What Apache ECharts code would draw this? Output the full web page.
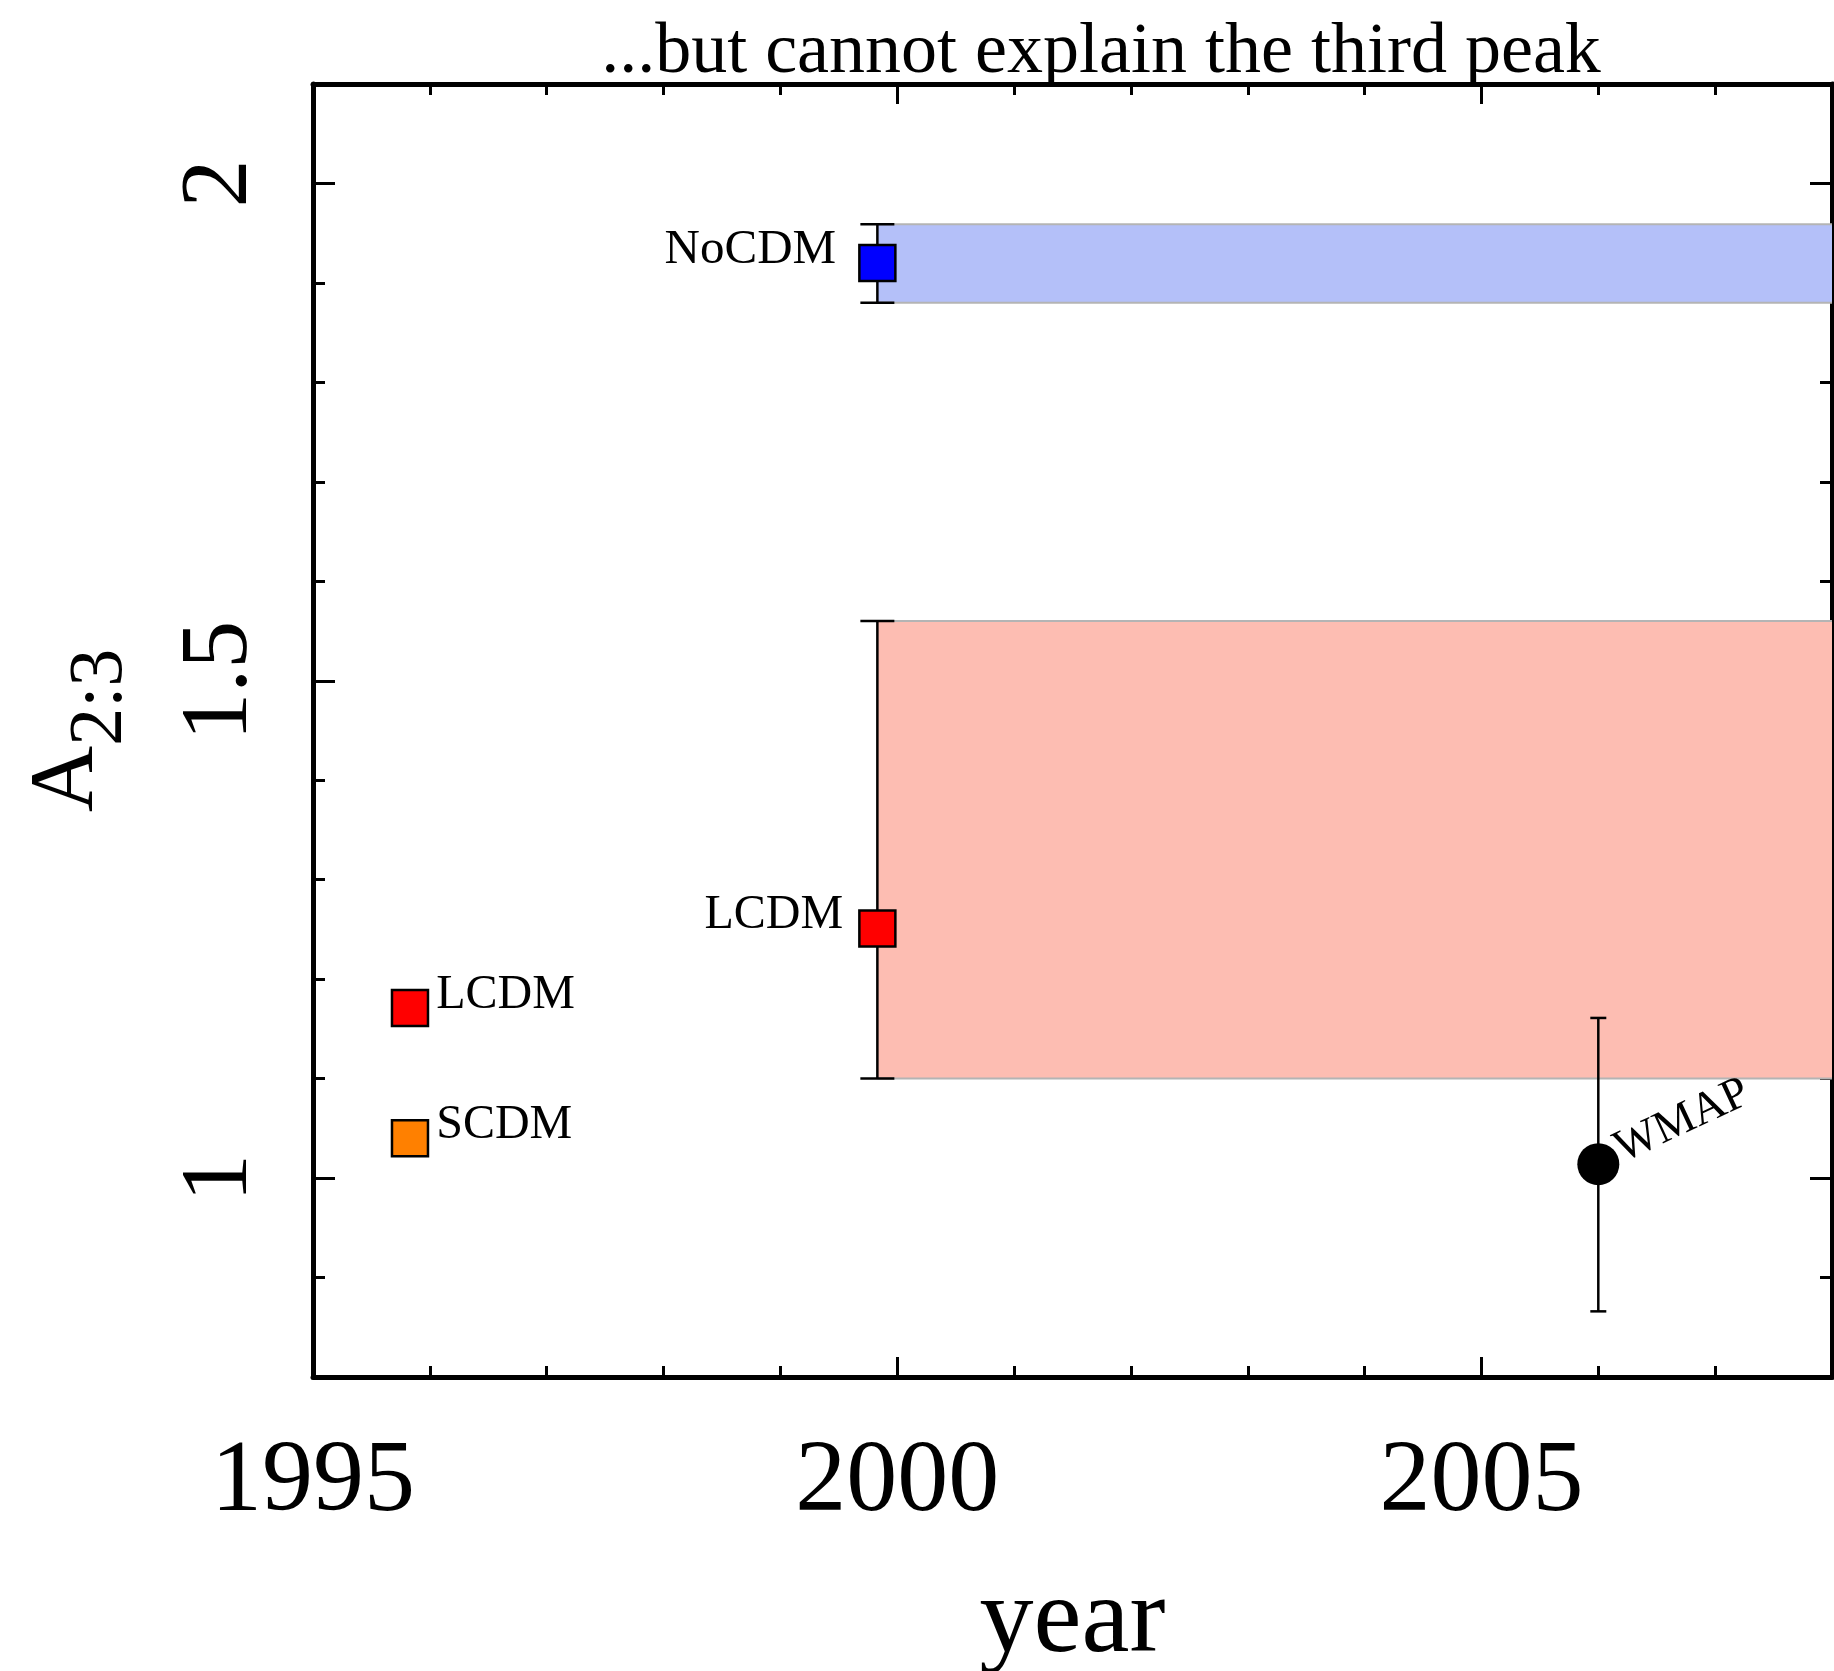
<!DOCTYPE html>
<html><head><meta charset="utf-8">
<script src="https://cdn.jsdelivr.net/npm/echarts@6/dist/echarts.min.js"></script>
<style>html,body{margin:0;padding:0;background:#fff}#c{width:1834px;height:1671px}</style>
</head><body><div id="c"></div>
<script>
// ---- tick values ----
const xMajorTicks = [1995, 2000, 2005];
const xMinorTicks = [1996, 1997, 1998, 1999, 2001, 2002, 2003, 2004, 2006, 2007];
const yMajorTicks = [1, 1.5, 2];
const yMinorTicks = [0.9, 1.1, 1.2, 1.3, 1.4, 1.6, 1.7, 1.8, 1.9];
const X_MIN = 1995, X_MAX = 2008, Y_MIN = 0.8, Y_MAX = 2.1;

// ---- data ----
const lcdmYears = [1995.83, 1999.83];
const lcdmValues = [1.171, 1.251];
const scdmYears = [1995.83];
const scdmValues = [1.040];
const nocdmYears = [1999.83];
const nocdmValues = [1.920];
const modelErrYears = [1999.83, 1999.83];
const modelErrLow = [1.880, 1.100];
const modelErrHigh = [1.959, 1.560];
const bandStart = [1999.83, 1999.83];
const bandLow = [1.880, 1.100];
const bandHigh = [1.959, 1.560];
const wmapYears = [2006.0];
const wmapValues = [1.014];
const wmapLow = [0.866];
const wmapHigh = [1.161];

// ---- styles ----
const bandColors = ['#b4c0f9', '#fdbdb2'];
const SERIF = '"Liberation Serif", "DejaVu Serif", serif';

const chart = echarts.init(document.getElementById('c'), null, {renderer: 'canvas'});

function tickAxis(common, extra) { return Object.assign({}, common, extra); }

const xBase = {
  type: 'value', min: X_MIN, max: X_MAX, gridIndex: 0,
  splitLine: {show: false}, axisLabel: {show: false}, minorTick: {show: false}
};
const yBase = {
  type: 'value', min: Y_MIN, max: Y_MAX, gridIndex: 0,
  splitLine: {show: false}, axisLabel: {show: false}, minorTick: {show: false}
};
const axisLineStyle = {show: true, onZero: false, lineStyle: {color: '#000', width: 5}};
const noLine = {show: false, onZero: false};
const fmt = v => String(Math.round(v * 10) / 10);

const option = {
  backgroundColor: '#fff',
  animation: false,
  title: {
    text: '...but cannot explain the third peak',
    left: 1101, top: 17, padding: 0, textAlign: 'center',
    textStyle: {fontFamily: SERIF, fontSize: 72, fontWeight: 'normal', color: '#000'}
  },
  grid: {left: 313, right: 2, top: 84, bottom: 294, containLabel: false, outerBoundsMode: 'none'},
  xAxis: [
    tickAxis(xBase, {
      position: 'bottom', axisLine: axisLineStyle,
      axisTick: {show: true, inside: true, length: 20, lineStyle: {width: 3, color: '#000'}, customValues: xMajorTicks},
      axisLabel: {show: true, customValues: xMajorTicks, formatter: fmt, fontFamily: SERIF, fontSize: 102, color: '#000', margin: 55},
      name: 'year', nameLocation: 'middle', nameGap: 192,
      nameTextStyle: {fontFamily: SERIF, fontSize: 108, color: '#000'}
    }),
    tickAxis(xBase, {
      position: 'bottom', axisLine: noLine,
      axisTick: {show: true, inside: true, length: 11, lineStyle: {width: 3, color: '#000'}, customValues: xMinorTicks}
    }),
    tickAxis(xBase, {
      position: 'top', axisLine: axisLineStyle,
      axisTick: {show: true, inside: true, length: 20, lineStyle: {width: 3, color: '#000'}, customValues: xMajorTicks}
    }),
    tickAxis(xBase, {
      position: 'top', axisLine: noLine,
      axisTick: {show: true, inside: true, length: 11, lineStyle: {width: 3, color: '#000'}, customValues: xMinorTicks}
    })
  ],
  yAxis: [
    tickAxis(yBase, {
      position: 'left', axisLine: axisLineStyle,
      axisTick: {show: true, inside: true, length: 22, lineStyle: {width: 3, color: '#000'}, customValues: yMajorTicks},
      axisLabel: {show: true, customValues: yMajorTicks, formatter: fmt, rotate: 90, fontFamily: SERIF, fontSize: 96, color: '#000', margin: 44},
      name: '{a|A}{s|2:3}', nameLocation: 'middle', nameGap: 174,
      nameTextStyle: {
        color: '#000',
        rich: {
          a: {fontFamily: SERIF, fontSize: 92, color: '#000', verticalAlign: 'bottom', padding: [0, 0, 25, 0]},
          s: {fontFamily: SERIF, fontSize: 76, color: '#000', verticalAlign: 'bottom'}
        }
      }
    }),
    tickAxis(yBase, {
      position: 'left', axisLine: noLine,
      axisTick: {show: true, inside: true, length: 12, lineStyle: {width: 3, color: '#000'}, customValues: yMinorTicks}
    }),
    tickAxis(yBase, {
      position: 'right', axisLine: axisLineStyle,
      axisTick: {show: true, inside: true, length: 22, lineStyle: {width: 3, color: '#000'}, customValues: yMajorTicks}
    }),
    tickAxis(yBase, {
      position: 'right', axisLine: noLine,
      axisTick: {show: true, inside: true, length: 12, lineStyle: {width: 3, color: '#000'}, customValues: yMinorTicks}
    })
  ],
  series: [
    {
      type: 'custom', name: 'bands', xAxisIndex: 0, yAxisIndex: 0, z: 1, clip: true,
      data: bandStart.map((s, i) => [s, bandLow[i], bandHigh[i]]),
      encode: {x: 0, y: [1, 2]},
      renderItem: function (params, api) {
        const p0 = api.coord([api.value(0), api.value(2)]);
        const p1 = api.coord([X_MAX, api.value(1)]);
        return {type: 'group', children: [
          {type: 'rect', shape: {x: p0[0], y: p0[1], width: p1[0] - p0[0], height: p1[1] - p0[1]}, style: {fill: bandColors[params.dataIndex]}},
          {type: 'line', shape: {x1: p0[0], y1: p0[1], x2: p1[0], y2: p0[1]}, style: {stroke: '#b4b4b4', lineWidth: 2}},
          {type: 'line', shape: {x1: p0[0], y1: p1[1], x2: p1[0], y2: p1[1]}, style: {stroke: '#b4b4b4', lineWidth: 2}}
        ]};
      }
    },
    {
      type: 'custom', name: 'modelErr', xAxisIndex: 0, yAxisIndex: 0, z: 2,
      data: modelErrYears.map((x, i) => [x, modelErrLow[i], modelErrHigh[i]]),
      encode: {x: 0, y: [1, 2]},
      renderItem: errRenderer(17)
    },
    {
      type: 'custom', name: 'wmapErr', xAxisIndex: 0, yAxisIndex: 0, z: 2,
      data: wmapYears.map((x, i) => [x, wmapLow[i], wmapHigh[i]]),
      encode: {x: 0, y: [1, 2]},
      renderItem: errRenderer(8)
    },
    {
      type: 'scatter', name: 'NoCDM', xAxisIndex: 0, yAxisIndex: 0, z: 3,
      symbol: 'rect', symbolSize: 36,
      itemStyle: {color: '#0000ff', borderColor: '#000', borderWidth: 2.5, opacity: 1},
      label: {show: true, formatter: 'NoCDM', position: 'left', distance: 22, offset: [0, -13],
        fontFamily: SERIF, fontSize: 49, color: '#000'},
      data: nocdmYears.map((x, i) => [x, nocdmValues[i]])
    },
    {
      type: 'scatter', name: 'LCDM', xAxisIndex: 0, yAxisIndex: 0, z: 3,
      symbol: 'rect', symbolSize: 36,
      itemStyle: {color: '#ff0000', borderColor: '#000', borderWidth: 2.5, opacity: 1},
      label: {show: true, formatter: 'LCDM', fontFamily: SERIF, fontSize: 48, color: '#000', offset: [0, -13]},
      data: lcdmYears.map((x, i) => ({
        value: [x, lcdmValues[i]],
        label: i === 0 ? {position: 'right', distance: 7} : {position: 'left', distance: 15}
      }))
    },
    {
      type: 'scatter', name: 'SCDM', xAxisIndex: 0, yAxisIndex: 0, z: 3,
      symbol: 'rect', symbolSize: 36,
      itemStyle: {color: '#ff8000', borderColor: '#000', borderWidth: 2.5, opacity: 1},
      label: {show: true, formatter: 'SCDM', position: 'right', distance: 7, offset: [0, -13],
        fontFamily: SERIF, fontSize: 48, color: '#000'},
      data: scdmYears.map((x, i) => [x, scdmValues[i]])
    },
    {
      type: 'scatter', name: 'WMAP', xAxisIndex: 0, yAxisIndex: 0, z: 3,
      symbol: 'circle', symbolSize: 42,
      itemStyle: {color: '#000', opacity: 1},
      label: {show: true, formatter: 'WMAP', position: 'right', distance: 4, rotate: 25, align: 'left',
        offset: [0, -14], fontFamily: SERIF, fontSize: 46, color: '#000'},
      data: wmapYears.map((x, i) => [x, wmapValues[i]])
    }
  ]
};

function errRenderer(cap) {
  return function (params, api) {
    const top = api.coord([api.value(0), api.value(2)]);
    const bot = api.coord([api.value(0), api.value(1)]);
    const st = {stroke: '#000', lineWidth: 2.5};
    return {type: 'group', children: [
      {type: 'line', shape: {x1: top[0], y1: top[1], x2: bot[0], y2: bot[1]}, style: st},
      {type: 'line', shape: {x1: top[0] - cap, y1: top[1], x2: top[0] + cap, y2: top[1]}, style: st},
      {type: 'line', shape: {x1: bot[0] - cap, y1: bot[1], x2: bot[0] + cap, y2: bot[1]}, style: st}
    ]};
  };
}

chart.setOption(option);
</script></body></html>
